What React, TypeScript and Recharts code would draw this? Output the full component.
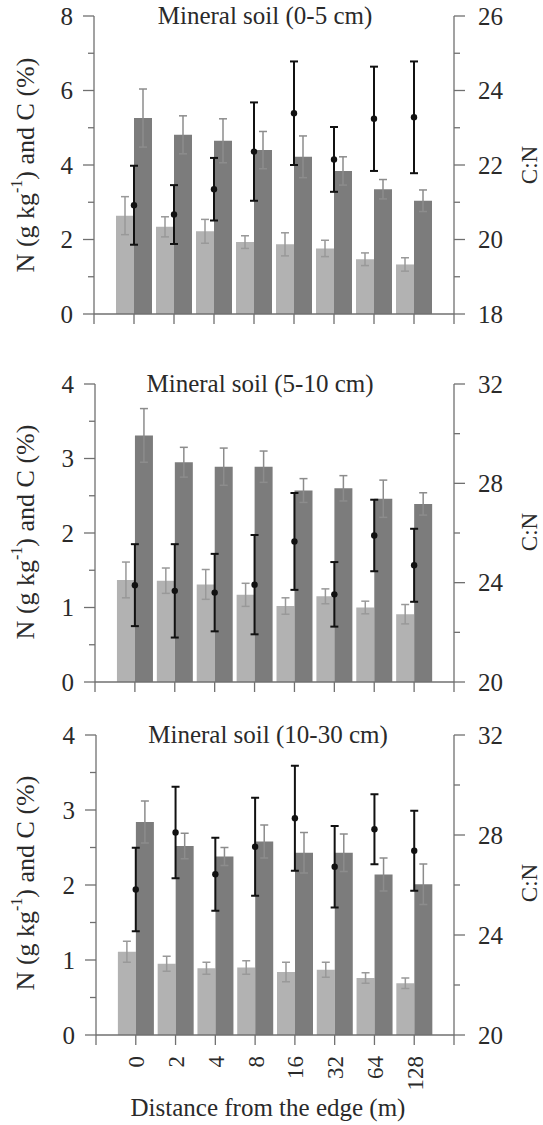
import React from 'react';
import { ComposedChart, Bar, Scatter, ErrorBar, XAxis, YAxis } from 'recharts';

// distance from the forest edge (m)
const distances = ['0', '2', '4', '8', '16', '32', '64', '128'];

// 0-5 cm
const n05 = [2.64, 2.34, 2.22, 1.93, 1.87, 1.76, 1.47, 1.33];
const n05Err = [0.51, 0.27, 0.32, 0.17, 0.31, 0.22, 0.17, 0.18];
const c05 = [5.26, 4.81, 4.65, 4.4, 4.22, 3.84, 3.35, 3.04];
const c05Err = [0.78, 0.51, 0.59, 0.5, 0.56, 0.38, 0.26, 0.29];
const cn05 = [20.92, 20.67, 21.35, 22.36, 23.39, 22.15, 23.24, 23.28];
const cn05Err = [1.06, 0.79, 0.84, 1.32, 1.39, 0.87, 1.4, 1.5];

// 5-10 cm
const n510 = [1.37, 1.36, 1.31, 1.17, 1.02, 1.15, 1.0, 0.91];
const n510Err = [0.24, 0.17, 0.2, 0.155, 0.11, 0.1, 0.085, 0.13];
const c510 = [3.31, 2.95, 2.89, 2.89, 2.57, 2.6, 2.46, 2.39];
const c510Err = [0.36, 0.2, 0.25, 0.21, 0.16, 0.17, 0.25, 0.15];
const cn510 = [23.9, 23.67, 23.6, 23.92, 25.66, 23.53, 25.9, 24.7];
const cn510Err = [1.65, 1.88, 1.56, 2.0, 1.95, 1.3, 1.44, 1.47];

// 10-30 cm
const n1030 = [1.11, 0.95, 0.89, 0.9, 0.84, 0.87, 0.76, 0.69];
const n1030Err = [0.14, 0.1, 0.08, 0.09, 0.13, 0.1, 0.07, 0.07];
const c1030 = [2.84, 2.52, 2.38, 2.58, 2.43, 2.43, 2.14, 2.01];
const c1030Err = [0.28, 0.17, 0.12, 0.22, 0.27, 0.25, 0.22, 0.27];
const cn1030 = [25.82, 28.1, 26.43, 27.53, 28.67, 26.73, 28.23, 27.37];
const cn1030Err = [1.67, 1.83, 1.46, 1.96, 2.1, 1.63, 1.4, 1.6];

const xTicks = [0, 1, 2, 3, 4, 5, 6, 7, 8, 9];
const ticks0to8 = [0, 1, 2, 3, 4, 5, 6, 7, 8];
const major0to8 = [0, 2, 4, 6, 8];
const ticks18to26 = [18, 19, 20, 21, 22, 23, 24, 25, 26];
const major18to26 = [18, 20, 22, 24, 26];
const ticks0to4 = [0, 0.5, 1, 1.5, 2, 2.5, 3, 3.5, 4];
const major0to4 = [0, 1, 2, 3, 4];
const ticks20to32 = [20, 22, 24, 26, 28, 30, 32];
const major20to32 = [20, 24, 28, 32];

const FONT = 'Liberation Serif, DejaVu Serif, serif';
const AXIS = '#707070';
const TEXT = '#2a2a2a';
const LIGHT = '#b2b2b2';
const DARK = '#7c7c7c';

const YTick = ({ x, y, payload, side, major }: any) => {
  const isMajor = major.includes(payload.value);
  const dir = side === 'left' ? -1 : 1;
  const len = isMajor ? 11 : 6;
  return (
    <g>
      <line x1={x} x2={x + dir * len} y1={y} y2={y} stroke={AXIS} strokeWidth={1.3} />
      {isMajor && (
        <text x={x + dir * (side === 'left' ? 21 : 24)} y={y} dy="0.34em" fontFamily={FONT} fontSize={25} fill={TEXT}
          textAnchor={side === 'left' ? 'end' : 'start'}>
          {payload.value}
        </text>
      )}
    </g>
  );
};

const XTick = ({ x, y, payload, showLabels }: any) => {
  const label = showLabels ? distances[payload.value - 1] : undefined;
  return (
    <g>
      <line x1={x} x2={x} y1={y} y2={y + 10} stroke={AXIS} strokeWidth={1.3} />
      {label && (
        <text x={x + 1} y={y + 21} transform={`rotate(-90, ${x + 1}, ${y + 21})`} textAnchor="end" dominantBaseline="central"
          fontFamily={FONT} fontSize={23} fill={TEXT}>
          {label}
        </text>
      )}
    </g>
  );
};

interface PanelProps {
  top: number; height: number; marginTop: number; marginBottom: number; xHeight: number; leftWidth: number;
  title: string; titleX: number; labelY: number;
  n: number[]; nErr: number[]; c: number[]; cErr: number[]; cn: number[]; cnErr: number[];
  leftDomain: number[]; leftTicks: number[]; leftMajor: number[];
  rightDomain: number[]; rightTicks: number[]; rightMajor: number[];
  showX?: boolean;
}

function Panel(p: PanelProps) {
  const data = distances.map((d, i) => ({
    x: i + 1, name: d,
    n: p.n[i], nErr: p.nErr[i], c: p.c[i], cErr: p.cErr[i], cn: p.cn[i], cnErr: p.cnErr[i],
  }));
  return (
    <div style={{ position: 'absolute', left: 0, top: p.top, width: 543, height: p.height }}>
      <ComposedChart width={543} height={p.height} data={data} barGap={0}
        style={{ fontFamily: FONT }}
        margin={{ top: p.marginTop, right: 0, bottom: p.marginBottom, left: 0 }}>
        <XAxis dataKey="x" type="number" domain={[0, 9]} ticks={xTicks} interval={0} height={p.xHeight}
          tickSize={0} tickMargin={0} tickLine={false} stroke={AXIS} strokeWidth={1.3}
          tick={<XTick showLabels={p.showX} />} />
        <YAxis yAxisId="left" orientation="left" width={p.leftWidth} domain={p.leftDomain} ticks={p.leftTicks} interval={0}
          tickSize={0} tickMargin={0} tickLine={false} stroke={AXIS} strokeWidth={1.3}
          tick={<YTick side="left" major={p.leftMajor} />} />
        <YAxis yAxisId="right" orientation="right" width={89} domain={p.rightDomain} ticks={p.rightTicks} interval={0}
          tickSize={0} tickMargin={0} tickLine={false} stroke={AXIS} strokeWidth={1.3}
          tick={<YTick side="right" major={p.rightMajor} />} />
        <Bar yAxisId="left" dataKey="n" fill={LIGHT} barSize={18} isAnimationActive={false}>
          <ErrorBar dataKey="nErr" width={4} stroke="#999999" strokeWidth={1.5} direction="y" />
        </Bar>
        <Bar yAxisId="left" dataKey="c" fill={DARK} barSize={18} isAnimationActive={false}>
          <ErrorBar dataKey="cErr" width={4} stroke="#8c8c8c" strokeWidth={1.5} direction="y" />
        </Bar>
        <Scatter yAxisId="right" dataKey="cn" isAnimationActive={false}
          shape={(s: any) => <circle cx={s.cx} cy={s.cy} r={3.2} fill="#111" />}>
          <ErrorBar dataKey="cnErr" width={4} stroke="#111" strokeWidth={2} direction="y" />
        </Scatter>
        <text x={p.titleX} y={p.marginTop + 8} textAnchor="middle" fontFamily={FONT} fontSize={25} fill={TEXT}>
          {p.title}
        </text>
        <text x={25} y={p.labelY} transform={`rotate(-90, 25, ${p.labelY})`} textAnchor="middle" dominantBaseline="central"
          fontFamily={FONT} fontSize={26} fill={TEXT}>
          N (g kg<tspan fontSize={16} dy={-9}>-1</tspan><tspan dy={9}>) and C (%)</tspan>
        </text>
        <text x={529} y={p.labelY} transform={`rotate(-90, 529, ${p.labelY})`} textAnchor="middle" dominantBaseline="central"
          fontFamily={FONT} fontSize={23} fill={TEXT}>
          C:N
        </text>
        {p.showX && (
          <text x={268} y={411} textAnchor="middle" fontFamily={FONT} fontSize={25} fill={TEXT}>
            Distance from the edge (m)
          </text>
        )}
      </ComposedChart>
    </div>
  );
}

export default function App() {
  return (
    <div style={{ position: 'absolute', left: 0, top: 0, width: 543, height: 1125, background: '#fff', fontFamily: FONT }}>
      <Panel top={0} height={345} marginTop={16} marginBottom={11} xHeight={20} leftWidth={94}
        title="Mineral soil (0-5 cm)" titleX={265} labelY={165}
        n={n05} nErr={n05Err} c={c05} cErr={c05Err} cn={cn05} cnErr={cn05Err}
        leftDomain={[0, 8]} leftTicks={ticks0to8} leftMajor={major0to8}
        rightDomain={[18, 26]} rightTicks={ticks18to26} rightMajor={major18to26} />
      <Panel top={360} height={340} marginTop={24} marginBottom={2} xHeight={16} leftWidth={95}
        title="Mineral soil (5-10 cm)" titleX={260} labelY={172}
        n={n510} nErr={n510Err} c={c510} cErr={c510Err} cn={cn510} cnErr={cn510Err}
        leftDomain={[0, 4]} leftTicks={ticks0to4} leftMajor={major0to4}
        rightDomain={[20, 32]} rightTicks={ticks20to32} rightMajor={major20to32} />
      <Panel top={705} height={420} marginTop={30} marginBottom={0} xHeight={90} leftWidth={96}
        title="Mineral soil (10-30 cm)" titleX={268} labelY={178}
        n={n1030} nErr={n1030Err} c={c1030} cErr={c1030Err} cn={cn1030} cnErr={cn1030Err}
        leftDomain={[0, 4]} leftTicks={ticks0to4} leftMajor={major0to4}
        rightDomain={[20, 32]} rightTicks={ticks20to32} rightMajor={major20to32} showX />
    </div>
  );
}
